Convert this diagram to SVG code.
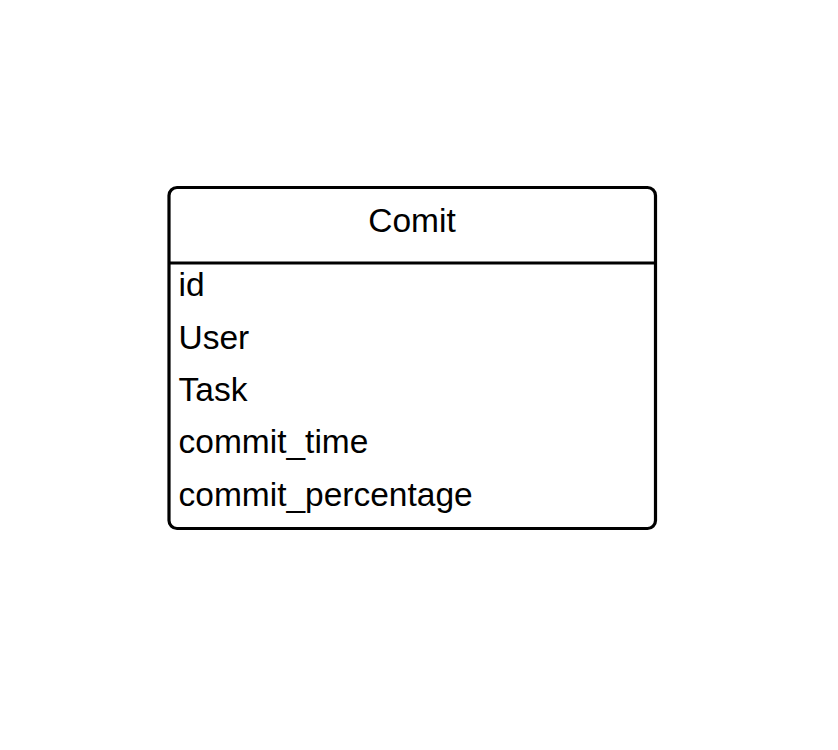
<svg xmlns="http://www.w3.org/2000/svg" width="838" height="750" viewBox="0 0 838 750">
<style>
.box{fill:#fff;stroke:#000;stroke-width:3.2}
.t{font-family:"Liberation Sans",Arial,sans-serif;font-size:33.5px;fill:#000}
</style>
<rect width="838" height="750" fill="#fff"/>
<g id="comit">
<rect class="box" x="169" y="187.5" width="486.5" height="341" rx="8" ry="8"/>
<line x1="169" y1="263" x2="655.5" y2="263" stroke="#000" stroke-width="3.2"/>
<text class="t" x="412" y="232" text-anchor="middle">Comit</text>
<text class="t" x="178.5" y="296">id</text>
<text class="t" x="178.5" y="348.5">User</text>
<text class="t" x="178.5" y="401">Task</text>
<text class="t" x="178.5" y="453">commit_time</text>
<text class="t" x="178.5" y="505.5">commit_percentage</text>
</g>
<g id="connectors"/>
</svg>
